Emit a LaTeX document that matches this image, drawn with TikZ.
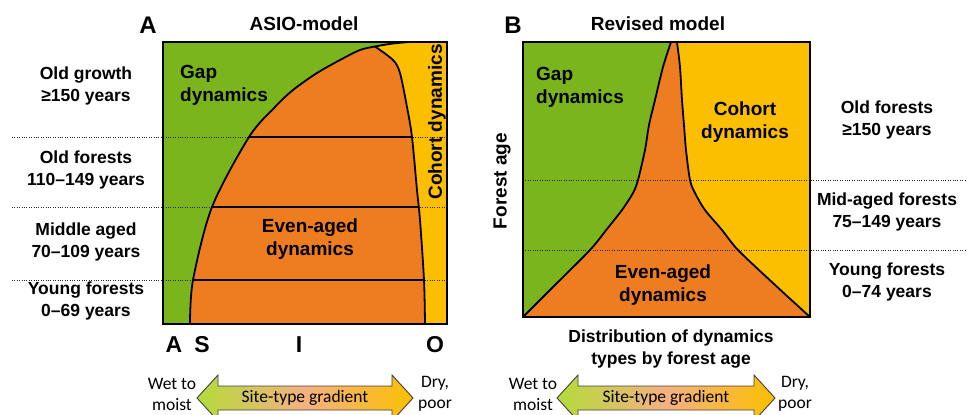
\documentclass[tikz,border=0pt]{standalone}
\usepackage{fontspec}
\setmainfont{Liberation Sans}
\newfontfamily\calib{Carlito}
\definecolor{gapg}{HTML}{7AB51D}
\definecolor{evenor}{HTML}{EE7D22}
\definecolor{cohy}{HTML}{FBBF00}
\definecolor{grl}{HTML}{B3DB3A}
\definecolor{grm}{HTML}{F5B182}
\definecolor{grr}{HTML}{FBBF00}
\tikzset{
  lab/.style={font=\bfseries\fontsize{17.5}{22}\selectfont, align=center, inner sep=0pt},
  reg/.style={font=\bfseries\fontsize{19}{23}\selectfont, align=center, inner sep=0pt},
  ttl/.style={font=\bfseries\fontsize{19}{23}\selectfont, inner sep=0pt},
  panel/.style={font=\bfseries\fontsize{24}{28}\selectfont, inner sep=0pt},
  asio/.style={font=\bfseries\fontsize{23}{27}\selectfont, inner sep=0pt},
  grad/.style={font=\calib\fontsize{17.5}{21}\selectfont, align=center, inner sep=0pt},
  dotline/.style={line width=1pt, dash pattern=on 1pt off 1.4pt, black!85},
  bound/.style={line width=1.8pt, black},
  boxline/.style={line width=2pt, black},
  gradarrow/.style={draw=black!75, line width=0.9pt, left color=grl, right color=grr, middle color=grm},
}
\def\gcurve{(190,324) (193,280) (212,207) (249,137) (275,107) (293,90) (317,73) (340,60) (360,50) (375,46.5) (393,43.5) (410,42)}
\def\ycurve{(375,46.5) (393,60) (400,73) (407,107) (412,137) (417,190) (420,220) (424,280) (425,324)}
\def\lcurve{(523,317) (556,284) (590,250) (607,229) (622,210) (633,193) (638,180) (645,150) (649,125) (655,100) (663,67) (671,42)}
\def\rcurve{(677,42) (680,67) (682,100) (684,125) (686,150) (690,180) (695,193) (705,210) (722,230) (738,250) (774,284) (810,317)}
\begin{document}
\begin{tikzpicture}[x=1pt,y=-1pt]
\clip (0,0) rectangle (967,415);
\fill[white] (0,0) rectangle (967,415);
% ---------------- Panel A ----------------
\fill[gapg] (163,42) rectangle (447,324);
\begin{scope}
\clip plot[smooth] coordinates {\gcurve} -- (447,42) -- (447,324) -- cycle;
\fill[evenor] (160,39) rectangle (450,327);
\fill[cohy] plot[smooth] coordinates {\ycurve} -- (450,327) -- (450,39) -- (378,39) -- cycle;
\end{scope}
% dotted age lines
\coordinate (a1l) at (12,137); \coordinate (a1r) at (447,137);
\coordinate (a2l) at (12,207); \coordinate (a2r) at (447,207);
\coordinate (a3l) at (12,280); \coordinate (a3r) at (447,280);
\draw[dotline] (a1l) -- (a1r);
\draw[dotline] (a2l) -- (a2r);
\draw[dotline] (a3l) -- (a3r);
% solid lines in orange
\coordinate (g1) at (249,137); \coordinate (y1) at (412,137);
\coordinate (g2) at (212,207); \coordinate (y2) at (419,207);
\coordinate (g3) at (193,280); \coordinate (y3) at (424,280);
\draw[bound] (g1) -- (y1);
\draw[bound] (g2) -- (y2);
\draw[bound] (g3) -- (y3);
\draw[bound] plot[smooth] coordinates {\gcurve};
\draw[bound] plot[smooth] coordinates {\ycurve};
\draw[boxline] (163,42) rectangle (447,324);
% labels A
\node[panel] (pA) at (148,25) {A};
\node[ttl] (tA) at (304,24) {ASIO-model};
\node[reg, align=left, anchor=west] (gapA) at (180,85) {Gap\\dynamics};
\node[reg, rotate=90] (cohA) at (437,122) {Cohort dynamics};
\node[reg] (evenA) at (310,239) {Even-aged\\dynamics};
\node[lab] (l1) at (86,86) {Old growth\\≥150 years};
\node[lab] (l2) at (86,170) {Old forests\\110–149 years};
\node[lab] (l3) at (86,242) {Middle aged\\70–109 years};
\node[lab] (l4) at (86,301) {Young forests\\0–69 years};
\node[asio] (sA) at (174,345) {A};
\node[asio] (sS) at (202,345) {S};
\node[asio] (sI) at (299,345) {I};
\node[asio] (sO) at (435,345) {O};
% gradient arrow A
\shade[gradarrow] (197,398) -- (218,375) -- (218,386) -- (392,386) -- (392,375) -- (413,398) -- (392,421) -- (392,410) -- (218,410) -- (218,421) -- cycle;
\node[grad] (gtA) at (305,398) {Site-type gradient};
\node[grad] (wA) at (172,394) {Wet to\\moist};
\node[grad] (dA) at (435,394) {Dry,\\poor};
% ---------------- Panel B ----------------
\fill[gapg] (523,42) rectangle (810,317);
\fill[cohy] plot[smooth] coordinates {\rcurve} -- (810,42) -- cycle;
\fill[evenor] plot[smooth] coordinates {\lcurve} -- plot[smooth] coordinates {\rcurve} -- cycle;
\coordinate (b1l) at (523,180); \coordinate (b1r) at (967,180);
\coordinate (b2l) at (523,250); \coordinate (b2r) at (967,250);
\draw[dotline] (b1l) -- (b1r);
\draw[dotline] (b2l) -- (b2r);
\draw[bound] plot[smooth] coordinates {\lcurve};
\draw[bound] plot[smooth] coordinates {\rcurve};
\draw[boxline] (523,42) rectangle (810,317);
\node[panel] (pB) at (513,25) {B};
\node[ttl] (tB) at (658,24) {Revised model};
\node[reg, align=left, anchor=west] (gapB) at (536,87) {Gap\\dynamics};
\node[reg] (cohB) at (745,122) {Cohort\\dynamics};
\node[reg] (evenB) at (663,285) {Even-aged\\dynamics};
\node[reg, rotate=90] (fage) at (502,181) {Forest age};
\node[lab] (r1) at (887,120) {Old forests\\≥150 years};
\node[lab] (r2) at (887,212) {Mid-aged forests\\75–149 years};
\node[lab] (r3) at (887,282) {Young forests\\0–74 years};
\node[lab] (dist) at (671,349) {Distribution of dynamics\\types by forest age};
\shade[gradarrow] (557,398) -- (578,375) -- (578,386) -- (754,386) -- (754,375) -- (775,398) -- (754,421) -- (754,410) -- (578,410) -- (578,421) -- cycle;
\node[grad] (gtB) at (666,398) {Site-type gradient};
\node[grad] (wB) at (533,394) {Wet to\\moist};
\node[grad] (dB) at (795,394) {Dry,\\poor};
\end{tikzpicture}
\end{document}
